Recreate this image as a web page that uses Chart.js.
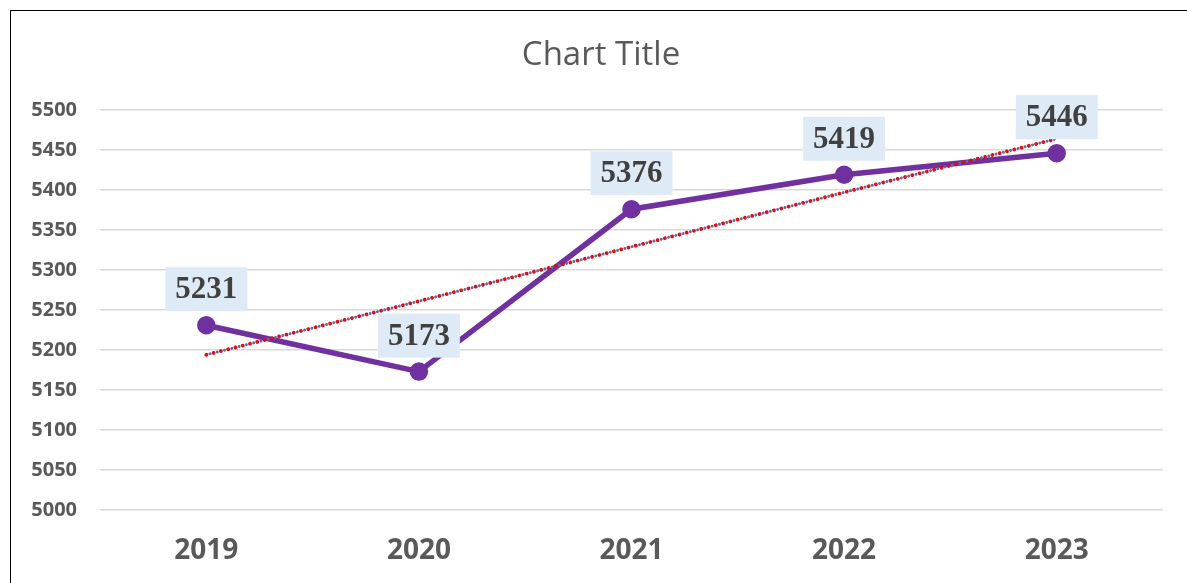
<!DOCTYPE html>
<html>
<head>
<meta charset="utf-8">
<script src="https://cdn.jsdelivr.net/npm/chart.js@4/dist/chart.umd.min.js"></script>
<style>
  html, body { margin: 0; padding: 0; background: #fff; overflow: hidden; }
  #wrap { position: relative; width: 1187px; height: 583px; }
  #frame { position: absolute; left: 10px; top: 10px; width: 1300px; height: 700px;
           border-left: 1.5px solid #000; border-top: 1.5px solid #000; pointer-events: none; }
  canvas { position: absolute; left: 0; top: 0; }
</style>
</head>
<body>
<div id="wrap">
  <canvas id="c" width="1187" height="583"></canvas>
  <div id="frame"></div>
</div>
<script>
const categories = ['2019', '2020', '2021', '2022', '2023'];
const seriesValues = [5231, 5173, 5376, 5419, 5446];
const trendValues = [5194, 5261, 5329, 5397, 5464];
const yTickMin = 5000;
const yTickMax = 5500;
const yTickStep = 50;
const chartTitle = 'Chart Title';

const titlePlugin = {
  id: 'fixedTitle',
  afterDraw(chart) {
    const ctx = chart.ctx;
    ctx.save();
    ctx.font = '33px "Open Sans", "Noto Sans", sans-serif';
    ctx.fillStyle = '#595959';
    ctx.textAlign = 'center';
    ctx.textBaseline = 'middle';
    ctx.fillText(chartTitle, 601, 56);
    ctx.restore();
  }
};

const dataLabelPlugin = {
  id: 'dataLabels',
  afterDatasetsDraw(chart) {
    const ctx = chart.ctx;
    const meta = chart.getDatasetMeta(2);
    ctx.save();
    ctx.font = 'bold 31px "Liberation Serif", "Times New Roman", serif';
    ctx.textAlign = 'center';
    ctx.textBaseline = 'middle';
    meta.data.forEach((pt, i) => {
      const txt = String(chart.data.datasets[2].data[i]);
      const w = ctx.measureText(txt).width + 20;
      const h = 44;
      const cx = pt.x;
      const cy = pt.y - 36;
      ctx.fillStyle = '#DEEBF7';
      ctx.fillRect(cx - w / 2, cy - h / 2, w, h);
      ctx.fillStyle = '#404040';
      ctx.fillText(txt, cx, cy + 1);
    });
    ctx.restore();
  }
};

new Chart(document.getElementById('c'), {
  type: 'line',
  data: {
    labels: categories,
    datasets: [
      {
        label: 'Trend (red)',
        data: trendValues,
        borderColor: '#FF0000',
        borderWidth: 3.8,
        borderDash: [0.01, 7.5],
        borderCapStyle: 'round',
        pointRadius: 0,
        fill: false,
        tension: 0
      },
      {
        label: 'Trend (blue)',
        data: trendValues,
        borderColor: '#4472C4',
        borderWidth: 3,
        borderDash: [0.01, 7.5],
        borderDashOffset: 3.75,
        borderCapStyle: 'round',
        pointRadius: 0,
        fill: false,
        tension: 0
      },
      {
        label: 'Series',
        data: seriesValues,
        borderColor: '#7030A0',
        backgroundColor: '#7030A0',
        borderWidth: 5.5,
        pointRadius: 6.5,
        pointBackgroundColor: '#7030A0',
        pointBorderColor: '#7030A0',
        fill: false,
        tension: 0
      }
    ]
  },
  options: {
    responsive: false,
    animation: false,
    devicePixelRatio: 1,
    layout: { padding: { top: 110, right: 24, bottom: 0, left: 0 } },
    plugins: {
      legend: { display: false },
      tooltip: { enabled: false },
      title: { display: false }
    },
    scales: {
      x: {
        grid: { display: false, drawTicks: false },
        border: { display: false },
        offset: true,
        ticks: {
          color: '#595959',
          padding: 24,
          font: { family: '"Open Sans", "Noto Sans", sans-serif', size: 28, weight: 'bold' }
        },
        afterFit(scale) { scale.height = 73; }
      },
      y: {
        min: yTickMin,
        max: yTickMax,
        grid: { color: '#D9D9D9', lineWidth: 1.5, drawTicks: false },
        border: { display: false },
        ticks: {
          stepSize: yTickStep,
          color: '#595959',
          padding: 23,
          callback: (v) => String(v),
          font: { family: '"Open Sans", "Noto Sans", sans-serif', size: 20, weight: 'bold' }
        },
        afterFit(scale) { scale.width = 100; }
      }
    }
  },
  plugins: [dataLabelPlugin, titlePlugin]
});
</script>
</body>
</html>
